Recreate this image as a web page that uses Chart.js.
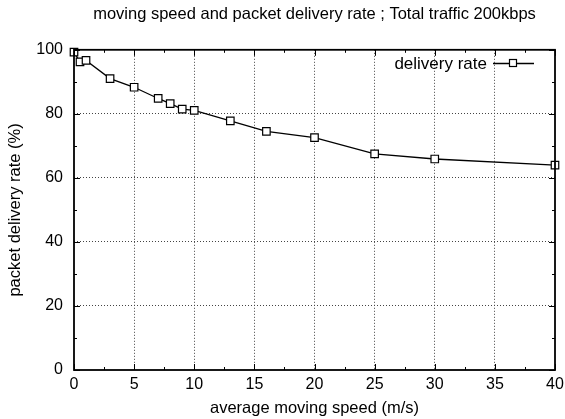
<!DOCTYPE html>
<html>
<head>
<meta charset="utf-8">
<script src="https://cdn.jsdelivr.net/npm/chart.js@4"></script>
<style>
  html, body { margin: 0; padding: 0; background: #fff; }
  #wrap { width: 565px; height: 419px; }
</style>
</head>
<body>
<div id="wrap"><canvas id="c" width="565" height="419"></canvas></div>
<script>
'use strict';

/* ── Data ────────────────────────────────────────────────────────── */
const speeds   = [0, 0.5, 1, 3, 5, 7, 8, 9, 10, 13, 16, 20, 25, 30, 40];
const delivery = [99.3, 96.2, 96.7, 91.0, 88.3, 84.8, 83.2, 81.5, 81.1, 77.8, 74.5, 72.6, 67.5, 65.9, 64.0];
const xTicks   = [0, 5, 10, 15, 20, 25, 30, 35, 40];
const yTicks   = [0, 20, 40, 60, 80, 100];
const seriesLabel = 'delivery rate';

const FONT = 'Liberation Sans, Arial, Helvetica, sans-serif';

/* ── Frame, inward ticks and legend, gnuplot-style ───────────────── */
const framePlugin = {
  id: 'frame',
  afterDraw(chart) {
    const { ctx, chartArea: a, scales: { x, y } } = chart;
    ctx.save();
    ctx.strokeStyle = '#000';
    ctx.lineWidth = 1;
    for (let v = 0; v <= 40; v += 2.5) {
      const px = Math.round(x.getPixelForValue(v)) + 0.5;
      const len = v % 5 === 0 ? 6 : 3;
      ctx.beginPath();
      ctx.moveTo(px, a.bottom); ctx.lineTo(px, a.bottom - len);
      ctx.moveTo(px, a.top);    ctx.lineTo(px, a.top + len);
      ctx.stroke();
    }
    for (let v = 0; v <= 100; v += 10) {
      const py = Math.round(y.getPixelForValue(v)) + 0.5;
      const len = v % 20 === 0 ? 6 : 3;
      ctx.beginPath();
      ctx.moveTo(a.left, py);  ctx.lineTo(a.left + len, py);
      ctx.moveTo(a.right, py); ctx.lineTo(a.right - len, py);
      ctx.stroke();
    }
    ctx.lineWidth = 1.8;
    ctx.strokeRect(a.left, a.top, a.right - a.left, a.bottom - a.top);

    // legend entry
    ctx.font = '17px ' + FONT;
    ctx.fillStyle = '#000';
    ctx.textAlign = 'right';
    ctx.textBaseline = 'middle';
    ctx.fillText(seriesLabel, 487, 64);
    ctx.lineWidth = 1.3;
    ctx.beginPath();
    ctx.moveTo(493, 63.5); ctx.lineTo(534, 63.5);
    ctx.stroke();
    ctx.fillStyle = '#fff';
    ctx.fillRect(509, 59.5, 8, 8);
    ctx.lineWidth = 1.2;
    ctx.strokeRect(509.5, 59.5, 7, 7);
    ctx.restore();
  },
};

const gridColor = ctx =>
  (ctx.tick && (ctx.tick.value === ctx.scale.min || ctx.tick.value === ctx.scale.max))
    ? 'transparent' : '#444';

new Chart(document.getElementById('c'), {
  type: 'line',
  data: {
    datasets: [{
      label: seriesLabel,
      data: speeds.map((s, i) => ({ x: s, y: delivery[i] })),
      borderColor: '#000',
      borderWidth: 1.3,
      pointStyle: 'rect',
      pointRadius: 5.3,
      pointBackgroundColor: '#fff',
      pointBorderColor: '#000',
      pointBorderWidth: 1.2,
      tension: 0,
      clip: false,
    }],
  },
  options: {
    responsive: false,
    animation: false,
    layout: { padding: { top: 0, right: 10, left: 0, bottom: 0 } },
    plugins: {
      legend: { display: false },
      tooltip: { enabled: false },
      title: {
        display: true,
        fullSize: false,
        text: 'moving speed and packet delivery rate ; Total traffic 200kbps',
        color: '#000',
        font: { family: FONT, size: 16.5, weight: 'normal' },
        padding: { top: 5, bottom: 25 },
      },
    },
    scales: {
      x: {
        type: 'linear',
        min: 0, max: 40,
        afterBuildTicks: s => { s.ticks = xTicks.map(v => ({ value: v })); },
        afterFit: s => { s.height = 49; s.paddingLeft = 0; s.paddingRight = 0; },
        grid: { color: gridColor, drawTicks: false },
        border: { display: false, dash: [1, 2] },
        ticks: { color: '#000', padding: 5, font: { family: FONT, size: 16 }, maxRotation: 0 },
        title: {
          display: true,
          text: 'average moving speed (m/s)',
          color: '#000',
          font: { family: FONT, size: 16.5 },
          padding: { top: 0, bottom: 1 },
        },
      },
      y: {
        min: 0, max: 100,
        afterBuildTicks: s => { s.ticks = yTicks.map(v => ({ value: v })); },
        afterFit: s => { s.width = 74; s.paddingTop = 0; s.paddingBottom = 0; },
        grid: { color: gridColor, drawTicks: false },
        border: { display: false, dash: [1, 2] },
        ticks: { color: '#000', padding: 11, font: { family: FONT, size: 16 } },
        title: {
          display: true,
          text: 'packet delivery rate (%)',
          color: '#000',
          font: { family: FONT, size: 16.5 },
          padding: { top: 6, bottom: 0 },
        },
      },
    },
  },
  plugins: [framePlugin],
});
</script>
</body>
</html>
